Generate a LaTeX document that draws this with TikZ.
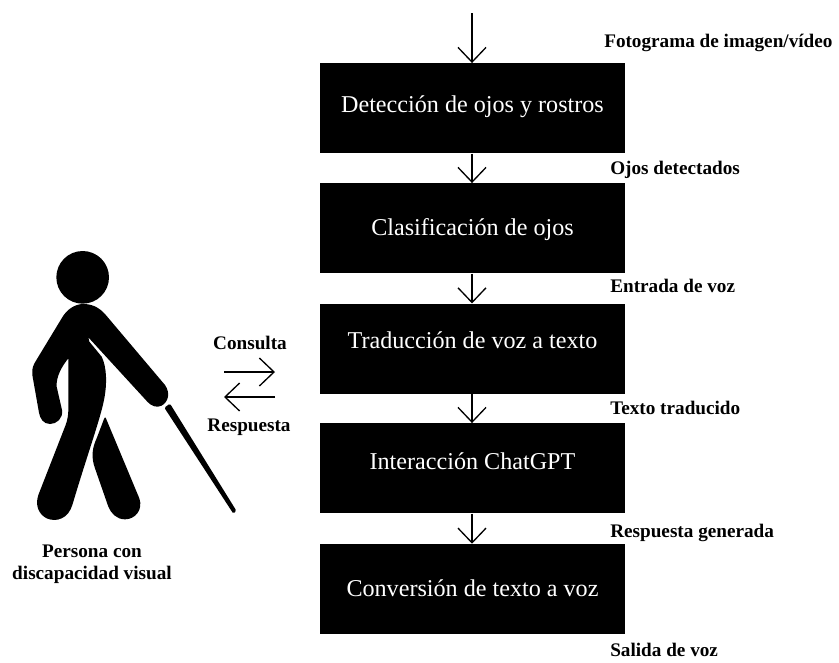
\documentclass[tikz,border=0pt]{standalone}
\usepackage{fontspec}
\setmainfont{Liberation Serif}
\usetikzlibrary{arrows.meta}
\newcommand{\lifted}[2]{\smash{\raisebox{#1}{#2}}}
\tikzset{
  stage/.style={fill=black,draw=none,minimum width=228.5pt,minimum height=67.5pt,inner sep=0pt,text=white,text height=14pt,text depth=4pt,font=\fontsize{18.1pt}{21pt}\selectfont},
  lab/.style={font=\bfseries\fontsize{14.4pt}{17pt}\selectfont,inner sep=0pt,anchor=west},
  clab/.style={font=\bfseries\fontsize{14.4pt}{16.5pt}\selectfont,inner sep=0pt,align=center},
  arr/.style={line width=1pt,-{Straight Barb[length=11pt,width=21pt,line width=1pt]},shorten >=0pt},
  sil/.style={fill=black,draw=none}
}
\begin{document}
\begin{tikzpicture}[x=0.75pt,y=-0.75pt]
\useasboundingbox (0,0) rectangle (839,662);
\node[stage] (b1) at (472.5,108.3) {\lifted{1.7pt}{Detección de ojos y rostros}};
\node[stage] (b2) at (472.5,228.3) {\lifted{-0.5pt}{Clasificación de ojos}};
\node[stage] (b3) at (472.5,348.7) {\lifted{5.25pt}{Traducción de voz a texto}};
\node[stage] (b4) at (472.5,468.3) {\lifted{4.3pt}{Interacción ChatGPT}};
\node[stage] (b5) at (472.5,589) {\lifted{-0.75pt}{Conversión de texto a voz}};
\coordinate (top) at (472,13);
\draw[arr] (top) -- (top |- b1.north);
\draw[arr] (b1.south -| top) -- (b2.north -| top);
\draw[arr] (b2.south -| top) -- (b3.north -| top);
\draw[arr] (b3.south -| top) -- (b4.north -| top);
\draw[arr] (b4.south -| top) -- (b5.north -| top);
\node[lab] (l1) at (604,43) {Fotograma de imagen/vídeo};
\node[lab] (l2) at (610,170) {Ojos detectados};
\node[lab] (l3) at (610,286) {Entrada de voz};
\node[lab] (l4) at (610,408) {Texto traducido};
\node[lab] (l5) at (610,533) {Respuesta generada};
\node[lab] (l6) at (610,650) {Salida de voz};
\node[clab] (cons) at (250,343) {Consulta};
\node[clab] (resp) at (249,427) {Respuesta};
\node[clab] (pers) at (92,564) {Persona con\\discapacidad visual};
\coordinate (a1) at (224,372); \coordinate (a2) at (275,372);
\coordinate (a3) at (275,397); \coordinate (a4) at (224,397);
\draw[arr] (a1) -- (a2);
\draw[arr] (a3) -- (a4);
\begin{scope}[shift={(0,230)},x=0.25pt,y=-0.25pt]
\fill[sil] (248,142) circle (79);
% body with both arms and front leg
\fill[sil] (250,222) .. controls (285,222) and (305,240) .. (320,258)
 -- (495,465) .. controls (512,490) and (505,515) .. (485,527)
 .. controls (470,535) and (452,527) .. (442,515)
 -- (265,322) -- (268,335) -- (305,380) .. controls (320,410) and (322,460) .. (312,510)
 .. controls (300,570) and (260,680) .. (217,825)
 .. controls (205,865) and (170,878) .. (140,865)
 .. controls (115,852) and (105,825) .. (115,795)
 -- (195,590) .. controls (205,565) and (205,550) .. (205,530)
 -- (205,385) .. controls (185,410) and (168,440) .. (170,470)
 -- (186,540) .. controls (190,565) and (170,582) .. (150,582)
 .. controls (130,582) and (120,565) .. (117,548)
 -- (97,435) .. controls (95,415) and (100,405) .. (108,392)
 -- (185,265) .. controls (200,238) and (225,222) .. (250,222) -- cycle;
% rear leg
\fill[sil] (317,563) -- (418,805) .. controls (430,840) and (405,868) .. (375,868)
 .. controls (350,868) and (333,850) .. (325,830)
 -- (285,715) .. controls (272,680) and (278,650) .. (290,625) -- (312,567)
 .. controls (313,563) and (315,562) .. (317,563) -- cycle;
% cane
\fill[sil,rounded corners=1pt] (493,533) -- (510,521) -- (709,842) -- (700,851) -- cycle;
\end{scope}
\end{tikzpicture}
\end{document}
